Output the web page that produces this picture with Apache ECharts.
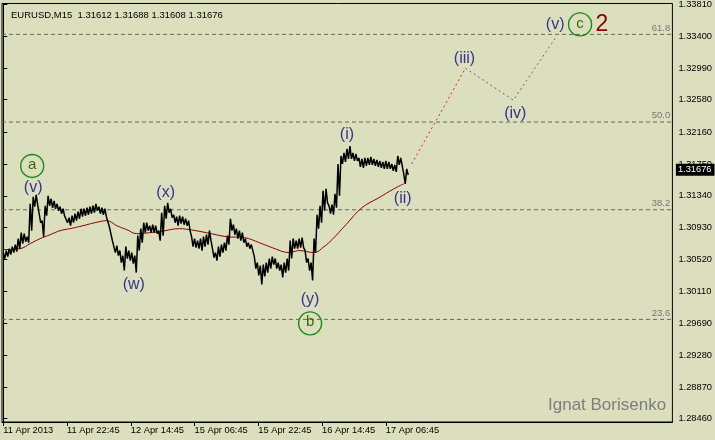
<!DOCTYPE html>
<html><head><meta charset="utf-8">
<script src="https://cdn.jsdelivr.net/npm/echarts@6/dist/echarts.min.js"></script>
<style>html,body{margin:0;padding:0;background:#dcdfbe}#c{width:715px;height:440px}</style>
</head><body><div id="c"></div>
<script>
// sampled every 3 bars (M15), starting 11 Apr 2013
const highs = [1.30606,1.30632,1.30657,1.30683,1.30709,1.30786,1.30863,1.30850,1.30812,1.31236,
1.31326,1.31352,1.31211,1.31018,1.31211,1.31339,1.31301,1.31275,1.31236,1.31198,
1.31172,1.31095,1.31056,1.31082,1.31108,1.31134,1.31172,1.31172,1.31185,1.31198,
1.31211,1.31236,1.31198,1.31185,1.31172,1.31082,1.30953,1.30760,1.30696,1.30632,
1.30567,1.30683,1.30632,1.30606,1.30567,1.30825,1.30915,1.30992,1.30992,1.30953,
1.30966,1.30953,1.30889,1.31121,1.31211,1.31249,1.31172,1.31095,1.31069,1.31082,
1.31069,1.31043,1.31018,1.30812,1.30786,1.30760,1.30786,1.30812,1.30837,1.30889,
1.30657,1.30606,1.30683,1.30709,1.30734,1.30825,1.31043,1.30966,1.30915,1.30889,
1.30863,1.30786,1.30734,1.30709,1.30554,1.30477,1.30438,1.30451,1.30477,1.30529,
1.30554,1.30529,1.30477,1.30451,1.30477,1.30529,1.30760,1.30786,1.30760,1.30786,
1.30799,1.30632,1.30529,1.30477,1.30786,1.31095,1.31211,1.31404,1.31429,1.31211,
1.31224,1.31365,1.31751,1.31854,1.31893,1.31944,1.31983,1.31893,1.31880,1.31828,
1.31816,1.31828,1.31828,1.31841,1.31816,1.31803,1.31790,1.31777,1.31790,1.31777,
1.31751,1.31738,1.31854,1.31828,1.31622,1.31688];
const lows = [1.30529,1.30554,1.30580,1.30606,1.30619,1.30657,1.30722,1.30747,1.30734,1.30889,
1.31198,1.31224,1.30992,1.30812,1.31082,1.31211,1.31185,1.31172,1.31146,1.31108,
1.31082,1.30992,1.30953,1.30992,1.31018,1.31043,1.31069,1.31082,1.31095,1.31108,
1.31121,1.31146,1.31108,1.31095,1.31069,1.30940,1.30760,1.30606,1.30567,1.30477,
1.30374,1.30529,1.30503,1.30464,1.30348,1.30632,1.30734,1.30863,1.30889,1.30863,
1.30863,1.30850,1.30760,1.30825,1.31043,1.31121,1.31056,1.30992,1.30953,1.30979,
1.30966,1.30953,1.30889,1.30683,1.30670,1.30657,1.30632,1.30683,1.30709,1.30760,
1.30541,1.30503,1.30554,1.30606,1.30632,1.30709,1.30889,1.30837,1.30786,1.30760,
1.30734,1.30683,1.30657,1.30632,1.30400,1.30310,1.30194,1.30297,1.30348,1.30400,
1.30451,1.30400,1.30374,1.30284,1.30348,1.30374,1.30529,1.30657,1.30657,1.30670,
1.30670,1.30477,1.30374,1.30245,1.30606,1.30915,1.30992,1.31146,1.31249,1.31108,
1.31095,1.31185,1.31339,1.31751,1.31777,1.31816,1.31816,1.31790,1.31790,1.31713,
1.31700,1.31725,1.31738,1.31738,1.31725,1.31713,1.31700,1.31687,1.31687,1.31687,
1.31661,1.31648,1.31738,1.31725,1.31494,1.31608];
const maBars = [0,17,27,37,47,57,67,80,92,104,114,124,134,147,157,177,187,204,224,242,257,270,287,297,312,322,330,344,360,377,392,402];
const maVals = [1.30644,1.30657,1.30722,1.30786,1.30837,1.30889,1.30915,1.30953,1.30992,1.31018,1.30953,1.30902,1.30850,1.30863,1.30876,1.30915,1.30902,1.30863,1.30812,1.30799,1.30734,1.30670,1.30606,1.30632,1.30606,1.30683,1.30773,1.30966,1.31185,1.31314,1.31429,1.31494];
const projBars = [410,464,512,554];
const projVals = [1.31751,1.32987,1.32575,1.33373];
const fibLevels = [1.33424,1.32292,1.31159,1.29743];
const fibNames = ['61.8','50.0','38.2','23.6'];
const yTicks = [1.33810,1.33400,1.32990,1.32580,1.32160,1.31750,1.31340,1.30930,1.30520,1.30110,1.29690,1.29280,1.28870,1.28460];
const xTickBars = [0,64,128,192,256,320,384];
const xTickLabels = ['11 Apr 2013','11 Apr 22:45','12 Apr 14:45','15 Apr 06:45','15 Apr 22:45','16 Apr 14:45','17 Apr 06:45'];
const lastPrice = 1.31676;
const waveLabels = [[30,1.31442,'(v)'],[163,1.31378,'(x)'],[131,1.30194,'(w)'],[308,1.30001,'(y)'],[345,1.32124,'(i)'],[401,1.31301,'(ii)'],[463,1.33115,'(iii)'],[514,1.32395,'(iv)'],[554,1.33553,'(v)']];
const circleLabels = [[29,1.31725,'a'],[308,1.29692,'b'],[579,1.33553,'c']];
const degreeLabels = [[601,1.33553,'2']];

const X0 = -1.3, X1 = 671.7;
const step = 3;
const zig = [];
highs.forEach((h,i)=>{ zig.push([i*step, h]); zig.push([i*step+1.5, lows[i]]); });
const ma = maBars.map((b,i)=>[b, maVals[i]]);
const proj = projBars.map((b,i)=>[b, projVals[i]]);
const FF = 'Liberation Sans';
const clear = 'rgba(0,0,0,0)';

const fibSeries = fibLevels.map(v=>({type:'line', data:[[X0,v],[X1,v]], symbol:'none', silent:true, z:2,
  lineStyle:{type:[4,3], color:'#666', width:1}}));

const textScatter = (data, label, z) => ({type:'scatter', data:data.map(d=>({value:[d[0],d[1]], name:d[2]})),
  symbolSize:1, itemStyle:{color:clear, opacity:1}, silent:true, z:z||6,
  label:Object.assign({show:true, position:'inside', opacity:1, formatter:p=>p.name, fontFamily:FF}, label)});

const chart = echarts.init(document.getElementById('c'));
chart.setOption({
  animation:false,
  backgroundColor:'#dcdfbe',
  title:{text:'EURUSD,M15  1.31612 1.31688 1.31608 1.31676', left:6, top:5,
    textStyle:{fontSize:9.5, fontWeight:'normal', color:'#000', fontFamily:FF}},
  graphic:[{type:'text', left:548, top:397, style:{text:'Ignat Borisenko', fill:'#7d7f7a', font:'17px "Liberation Sans"'}}],
  grid:{left:2, right:40, top:2, bottom:18, show:true, borderColor:'#000', borderWidth:1, backgroundColor:'transparent'},
  xAxis:{type:'value', min:X0, max:X1,
    axisLine:{show:true, lineStyle:{color:'#000'}},
    axisTick:{show:true, length:4, lineStyle:{color:'#000'}, customValues:xTickBars},
    axisLabel:{customValues:xTickBars, formatter:v=>xTickLabels[xTickBars.indexOf(v)]||'', align:'left', margin:4, color:'#000', fontSize:9.3, fontFamily:FF},
    splitLine:{show:false}},
  yAxis:{type:'value', position:'right', min:1.28418, max:1.33823, scale:true,
    axisLine:{show:true, lineStyle:{color:'#000'}},
    axisTick:{show:true, length:4, lineStyle:{color:'#000'}, customValues:yTicks},
    axisLabel:{customValues:yTicks, formatter:v=>v.toFixed(5), margin:6, color:'#000', fontSize:9.3, fontFamily:FF},
    splitLine:{show:false}},
  series:[
    ...fibSeries,
    {type:'scatter', data:fibLevels.map((v,i)=>({value:[669.5,v], name:fibNames[i]})), symbolSize:1, itemStyle:{color:clear, opacity:1}, silent:true, z:3,
      label:{show:true, position:'top', align:'right', distance:1, opacity:1, formatter:p=>p.name, color:'#767676', fontSize:9.5, fontFamily:FF}},
    {type:'line', data:ma, smooth:0.4, symbol:'none', lineStyle:{color:'#8b0000', width:1}, z:3},
    {type:'line', data:zig, symbol:'none', lineStyle:{color:'#000', width:1.5}, z:4},
    {type:'scatter', data:[[X1,lastPrice]], symbolSize:1, itemStyle:{color:clear, opacity:1}, clip:false, z:10, silent:true,
      label:{show:true, position:'right', distance:3, opacity:1, formatter:lastPrice.toFixed(5), backgroundColor:'#000', color:'#fff', padding:[2,3,1,2], fontSize:9.3, fontFamily:FF}},
    {type:'line', data:proj.slice(0,2), symbol:'none', lineStyle:{color:'#e02040', width:1, type:[2,3]}, z:3},
    {type:'line', data:proj.slice(1), symbol:'none', lineStyle:{color:'#6a6a6a', width:1, type:[2,3]}, z:3},
    textScatter(waveLabels, {color:'#34348e', fontSize:16}),
    {type:'scatter', data:circleLabels.map(d=>({value:[d[0],d[1]], name:d[2]})), symbol:'circle', symbolSize:23, z:6, silent:true,
      itemStyle:{color:clear, borderColor:'#1a8a1a', borderWidth:1.4, opacity:1},
      label:{show:true, position:'inside', opacity:1, formatter:p=>p.name, color:'#3a6a00', fontSize:15, fontFamily:FF, offset:[0,-1]}},
    textScatter(degreeLabels, {color:'#8b0000', fontSize:23})
  ]
});
</script></body></html>
